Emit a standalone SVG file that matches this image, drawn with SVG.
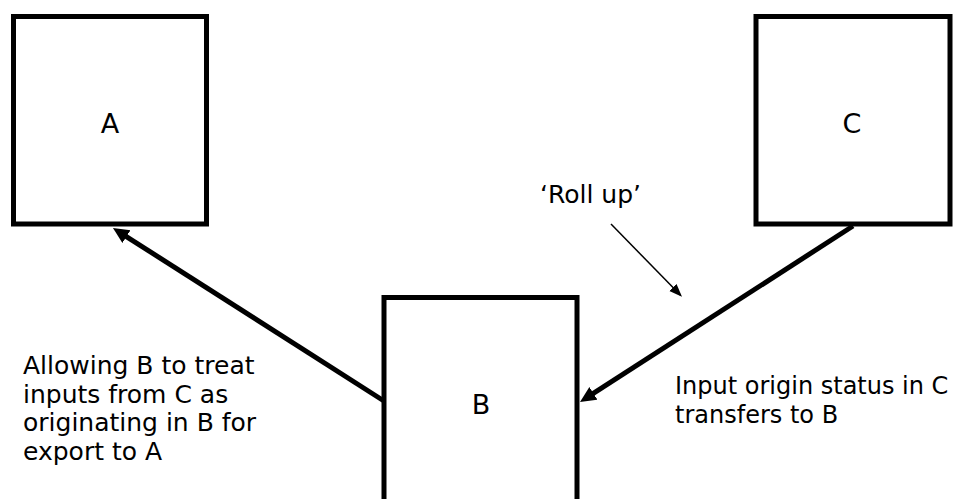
<svg xmlns="http://www.w3.org/2000/svg" width="954" height="499" viewBox="0 0 954 499">
  <style>
    .box { fill: #ffffff; stroke: #000000; stroke-width: 5; }
    .lbl { font-family: "DejaVu Sans", "Liberation Sans", sans-serif; font-size: 25px; fill: #000000; }
    .big { font-size: 27px; text-anchor: middle; }
    .thick { stroke: #000000; stroke-width: 5; fill: none; }
    .thin { stroke: #000000; stroke-width: 1.5; fill: none; }
  </style>
  <defs>
    <marker id="headThick" markerUnits="userSpaceOnUse" markerWidth="17" markerHeight="16" refX="8" refY="7.5" orient="auto">
      <path d="M0,0 L16,7.5 L0,15 z" fill="#000000"/>
    </marker>
    <marker id="headThin" markerUnits="userSpaceOnUse" markerWidth="14" markerHeight="12" refX="11" refY="5" orient="auto">
      <path d="M0,0 L13,5 L0,10 z" fill="#000000"/>
    </marker>
  </defs>
  <rect width="954" height="499" fill="#ffffff"/>

  <g id="nodeA">
    <rect class="box" x="13.5" y="16.5" width="193" height="207.5"/>
    <text class="lbl big" x="110" y="133">A</text>
  </g>
  <g id="nodeC">
    <rect class="box" x="756" y="16.5" width="194" height="207.5"/>
    <text class="lbl big" x="852" y="133">C</text>
  </g>
  <g id="nodeB">
    <rect class="box" x="384" y="297.5" width="193" height="220"/>
    <text class="lbl big" x="481" y="414">B</text>
  </g>

  <g id="connectors">
    <line class="thick" x1="384" y1="401" x2="119.7" y2="232.3" marker-end="url(#headThick)"/>
    <line class="thick" x1="853" y1="226" x2="586.7" y2="397.7" marker-end="url(#headThick)"/>
    <line class="thin" x1="611" y1="224" x2="680.6" y2="295.3" marker-end="url(#headThin)"/>
  </g>

  <g id="labels">
    <text class="lbl" x="540" y="203">‘Roll up’</text>
    <text class="lbl" x="23">
      <tspan x="23" y="374">Allowing B to treat</tspan>
      <tspan x="23" y="402.5">inputs from C as</tspan>
      <tspan x="23" y="431">originating in B for</tspan>
      <tspan x="23" y="459.5">export to A</tspan>
    </text>
    <text class="lbl" style="font-size:24px">
      <tspan x="675" y="394">Input origin status in C</tspan>
      <tspan x="675" y="422.5">transfers to B</tspan>
    </text>
  </g>
</svg>
